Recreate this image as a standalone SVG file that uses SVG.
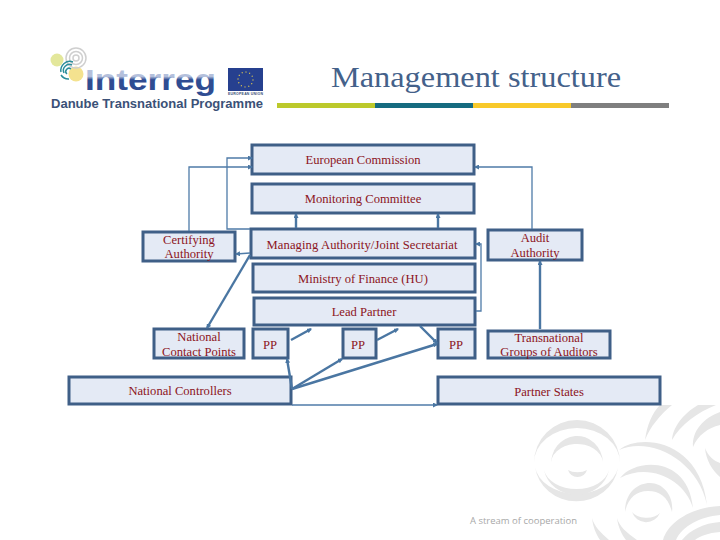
<svg xmlns="http://www.w3.org/2000/svg" width="720" height="540" viewBox="0 0 720 540">
<style>
.box{fill:#e4eaf5;stroke:#3f5f87;stroke-width:3}
.t{font-family:"Liberation Serif",serif;font-size:12.6px;fill:#8c1422;text-anchor:middle}
.c{fill:none;stroke:#4f7ba8;stroke-width:1.3;marker-end:url(#a)}
.c2{fill:none;stroke:#4a76a2;stroke-width:2.4;marker-end:url(#a)}
.w{fill:#e6e6e6}
</style>
<defs>
<marker id="a" markerUnits="userSpaceOnUse" markerWidth="5" markerHeight="5" refX="4" refY="2.500" orient="auto"><path d="M0,0L5,2.500L0,5Z" fill="#4a76a2"/></marker>
<linearGradient id="ig" x1="0" y1="68" x2="0" y2="96" gradientUnits="userSpaceOnUse"><stop offset="0.3" stop-color="#b4c0dc"/><stop offset="0.42" stop-color="#2f4c92"/></linearGradient>
</defs>
<rect width="720" height="540" fill="#fff"/>
<g id="watermark">
<path class="w" d="M534,463A43,43 0 0 1 620,463A43,35 0 0 0 534,463Z"/>
<path class="w" d="M535,467A42,40 0 0 0 618,468A42,31 0 0 1 535,467Z"/>
<path class="w" d="M551,466A26,28 0 0 1 603,462A26,20 0 0 0 551,466Z"/>
<path class="w" d="M544,470A33,30 0 0 0 609,470A33,23 0 0 1 544,470Z"/>
<path class="w" d="M568,470A10,10 0 0 0 587,470A12,6 0 0 1 568,470Z"/>
<path class="w" d="M619,450C640,433 700,440 707,505C698,460 650,436 619,450Z"/>
<path class="w" d="M620,478C635,458 688,455 693,508C685,480 650,462 620,478Z"/>
<path class="w" d="M625,512C625,492 638,483 650,483C664,483 674,497 672,512C668,497 660,491 648,491C636,491 628,498 625,512Z"/>
<path class="w" d="M632,512A15,15 0 0 0 660,513A16,10 0 0 1 632,512Z"/>
<path class="w" d="M592,518C593,527 596,534 600,540L609,540C601,533 594,526 592,518Z"/>
<path class="w" d="M617,518C618,527 622,535 626,540L637,540C627,533 619,526 617,518Z"/>
<path class="w" d="M663,540C668,522 692,507 720,506L720,515C700,517 682,526 676,540Z"/>
<path class="w" d="M682,540C690,530 704,523 720,522L720,532C708,533 700,536 695,540Z"/>
<path class="w" d="M645,440C647,425 652,413 660,405L672,405C660,415 650,427 645,440Z"/>
<path class="w" d="M672,440C673,425 686,412 698,405L716,405C698,412 680,425 672,440Z"/>
<path class="w" d="M693,447C692,430 704,418 720,412L720,425C708,428 698,435 693,447Z"/>
<path class="w" d="M705,448C708,456 714,461 720,463L720,477C712,470 706,460 705,448Z"/>
<text x="470" y="524" font-family="Open Sans,sans-serif" font-size="9.500" fill="#a8a8a8" textLength="107">A stream of cooperation</text>
</g>
<g id="logo">
<circle cx="57" cy="60" r="6.500" fill="#e3e79b"/>
<circle cx="76" cy="74" r="7.500" fill="#f4e28f"/>
<g fill="none" stroke-width="1.500">
<circle cx="76" cy="58" r="10" stroke="#cfcfcf"/>
<circle cx="76" cy="58" r="6.500" stroke="#cfcfcf"/>
<circle cx="76" cy="58" r="3" stroke="#cfcfcf"/>
<path stroke="#2a8d9a" d="M61,72A9,9 0 0 1 73,62"/>
<path stroke="#2a8d9a" d="M64,73A6,6 0 0 1 72,65"/>
<path stroke="#2a8d9a" d="M67,74A3,3 0 0 1 71,69"/>
<path stroke="#2a8d9a" d="M61,75A9,9 0 0 0 69,79"/>
</g>
<text x="85" y="90" font-family="Liberation Sans,sans-serif" font-weight="700" font-size="30" fill="url(#ig)" textLength="131" lengthAdjust="spacingAndGlyphs">Interreg</text>
<text x="51" y="108" font-family="Liberation Sans,sans-serif" font-weight="700" font-size="12" fill="#3b5177" textLength="212" lengthAdjust="spacingAndGlyphs">Danube Transnational Programme</text>
<rect x="228" y="68" width="35" height="23" fill="#26408f"/>
<circle cx="245.500" cy="79.500" r="7.500" fill="none" stroke="#f4d84a" stroke-width="1.200" stroke-dasharray="1 2.900"/>
<text x="228" y="95" font-family="Liberation Sans,sans-serif" font-weight="700" font-size="3.500" fill="#3b5177" textLength="35">EUROPEAN UNION</text>
</g>
<g id="bar">
<rect x="277" y="103" width="98" height="5" fill="#bcc92b"/>
<rect x="375" y="103" width="98" height="5" fill="#156b80"/>
<rect x="473" y="103" width="98" height="5" fill="#f8c92a"/>
<rect x="571" y="103" width="98" height="5" fill="#7f7f7f"/>
</g>
<text id="title" x="331" y="87" font-family="Liberation Serif,serif" font-size="29" fill="#44618a" textLength="290" lengthAdjust="spacingAndGlyphs">Management structure</text>
<g id="ec"><rect class="box" x="252" y="145" width="222" height="29"/><text class="t" x="363" y="164">European Commission</text></g>
<g id="mc"><rect class="box" x="252" y="184" width="222" height="29"/><text class="t" x="363" y="203">Monitoring Committee</text></g>
<g id="ma"><rect class="box" x="251" y="229" width="224" height="29"/><text class="t" x="362" y="249" textLength="191">Managing Authority/Joint Secretariat</text></g>
<g id="ca"><rect class="box" x="143" y="232" width="92" height="29"/><text class="t" x="189" y="244">Certifying</text><text class="t" x="189" y="258">Authority</text></g>
<g id="aa"><rect class="box" x="488" y="230" width="94" height="30"/><text class="t" x="535" y="242">Audit</text><text class="t" x="535" y="257">Authority</text></g>
<g id="mf"><rect class="box" x="253" y="264" width="222" height="28"/><text class="t" x="363" y="283">Ministry of Finance (HU)</text></g>
<g id="lp"><rect class="box" x="254" y="298" width="221" height="27"/><text class="t" x="364" y="316">Lead Partner</text></g>
<g id="ncp"><rect class="box" x="154" y="329" width="90" height="29"/><text class="t" x="199" y="341">National</text><text class="t" x="199" y="356">Contact Points</text></g>
<g id="pp1"><rect class="box" x="253" y="329" width="35" height="29"/><text class="t" x="270" y="349">PP</text></g>
<g id="pp2"><rect class="box" x="343" y="329" width="33" height="29"/><text class="t" x="358" y="349">PP</text></g>
<g id="pp3"><rect class="box" x="438" y="329" width="37" height="29"/><text class="t" x="456" y="349">PP</text></g>
<g id="tga"><rect class="box" x="488" y="331" width="122" height="27"/><text class="t" x="549" y="342">Transnational</text><text class="t" x="549" y="356">Groups of Auditors</text></g>
<g id="nc"><rect class="box" x="69" y="377" width="222" height="27"/><text class="t" x="180" y="395">National Controllers</text></g>
<g id="ps"><rect class="box" x="438" y="377" width="222" height="27"/><text class="t" x="549" y="396">Partner States</text></g>
<g id="connectors">
<path class="c" d="M250,229H227V158H252"/>
<path class="c" d="M189,231V167H252"/>
<path class="c" d="M532,229V167H475"/>
<path class="c2" d="M296,228V214"/>
<path class="c2" d="M438,228V214"/>
<path class="c" d="M250,253L236,254"/>
<path class="c2" d="M250,255L207,328"/>
<path class="c" d="M476,311H481V244H476"/>
<path class="c2" d="M540,329V261"/>
<path class="c2" d="M291,340L311,329"/>
<path class="c2" d="M377,340L398,329"/>
<path class="c2" d="M420,326L437,343"/>
<path class="c2" d="M292,389L287,359"/>
<path class="c2" d="M292,389L342,359"/>
<path class="c2" d="M292,389L437,344"/>
<path class="c" stroke-width="1.600" d="M292,405H437"/>
</g>
</svg>
